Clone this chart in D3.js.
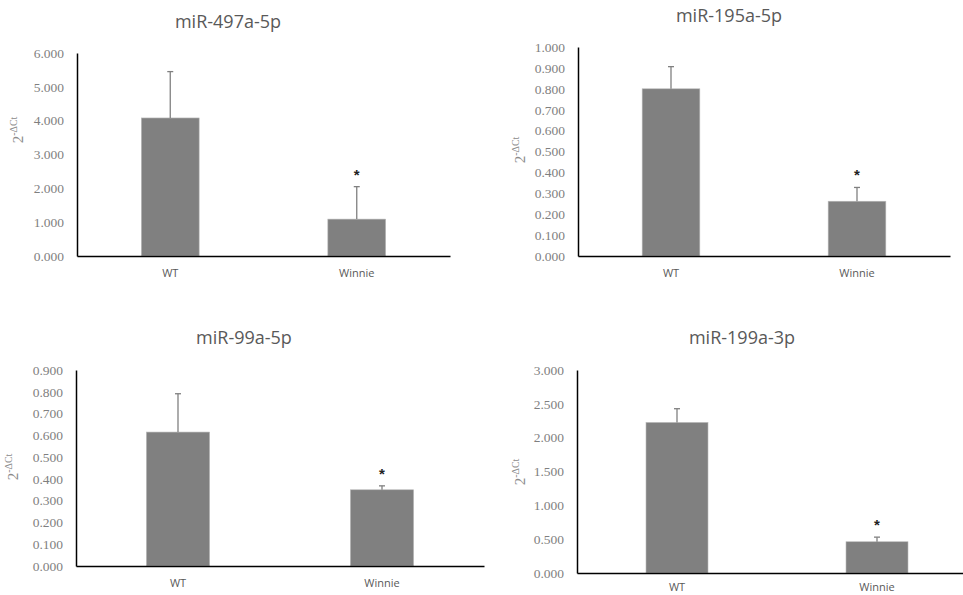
<!DOCTYPE html>
<html>
<meta charset="utf-8">
<title>miRNA expression</title>
<style>
  html, body { margin: 0; padding: 0; background: #fff; }
  .title { font-family: "Open Sans", sans-serif; font-size: 18px; fill: #595959; }
  .tick text { font-family: "Liberation Serif", serif; font-size: 13.5px; fill: #7f7f7f; }
  .xlab { font-family: "Open Sans", sans-serif; font-size: 11px; fill: #595959; }
  .ylab { font-family: "Liberation Serif", serif; font-size: 15px; fill: #8a8a8a; }
  .bar { fill: #808080; stroke: #b8b8b8; stroke-width: 0.6; }
  .err { stroke: #808080; stroke-width: 1.3; fill: none; }
  .star { font-family: "Liberation Sans", sans-serif; font-size: 15px; font-weight: bold; fill: #222; }
</style>
<body>
<div id="chart"></div>
<script src="https://d3js.org/d3.v7.min.js"></script>
<script>
// data
var titles = ["miR-497a-5p", "miR-195a-5p", "miR-99a-5p", "miR-199a-3p"];
var groups = ["WT", "Winnie"];
var means = [[4.08, 1.09], [0.800, 0.262], [0.615, 0.350], [2.225, 0.462]];
var errUp = [[1.37, 0.96], [0.106, 0.066], [0.176, 0.018], [0.203, 0.068]];
var yMax = [6, 1, 0.9, 3];
var yStep = [1, 0.1, 0.1, 0.5];
var signif = [[false, true], [false, true], [false, true], [false, true]];

// panel frames (plot area)
var panels = [
  {left: 77, right: 450, top: 53, bottom: 256, tx: 228, ty: 23, lx: 20, ly: 130, xl: 18},
  {left: 578, right: 950, top: 47, bottom: 256, tx: 729, ty: 17, lx: 522, ly: 150, xl: 18},
  {left: 76, right: 484, top: 370, bottom: 566, tx: 244, ty: 339, lx: 15, ly: 467, xl: 18},
  {left: 577, right: 977, top: 370, bottom: 573, tx: 742, ty: 339, lx: 522, ly: 472, xl: 15}
];

var svg = d3.select("#chart").append("svg")
    .attr("width", 963)
    .attr("height", 595);

panels.forEach(function(p, i) {
    var g = svg.append("g");

    var x = d3.scaleBand()
        .domain(groups)
        .range([p.left, p.right])
        .paddingInner(0.69)
        .paddingOuter(0.345);

    var y = d3.scaleLinear()
        .domain([0, yMax[i]])
        .range([p.bottom, p.top]);

    var ticks = d3.range(0, yMax[i] + yStep[i] / 2, yStep[i]);

    // title
    g.append("text")
        .attr("class", "title")
        .attr("x", p.tx)
        .attr("y", p.ty)
        .attr("dominant-baseline", "middle")
        .attr("text-anchor", "middle")
        .text(titles[i]);

    // bars
    g.selectAll(".bar")
        .data(groups)
        .enter().append("rect")
        .attr("class", "bar")
        .attr("x", function(d) { return x(d); })
        .attr("width", x.bandwidth())
        .attr("y", function(d, j) { return y(means[i][j]); })
        .attr("height", function(d, j) { return y(0) - y(means[i][j]); });

    // error bars (upper only)
    groups.forEach(function(d, j) {
        var cx = x(d) + x.bandwidth() / 2;
        var top = y(means[i][j] + errUp[i][j]);
        g.append("line").attr("class", "err")
            .attr("x1", cx).attr("x2", cx)
            .attr("y1", y(means[i][j])).attr("y2", top);
        g.append("line").attr("class", "err")
            .attr("x1", cx - 3).attr("x2", cx + 3)
            .attr("y1", top).attr("y2", top);
        if (signif[i][j]) {
            g.append("text")
                .attr("class", "star")
                .attr("x", cx)
                .attr("y", top - 7)
                .attr("text-anchor", "middle")
                .text("*");
        }
    });

    // y axis
    var ya = g.append("g")
        .attr("transform", "translate(" + p.left + ",0)")
        .call(d3.axisLeft(y).tickValues(ticks).tickFormat(d3.format(".3f")).tickSize(0).tickPadding(13));
    ya.select(".domain").attr("stroke", "#000").attr("stroke-width", 1.5);

    // x axis
    var xa = g.append("g")
        .attr("transform", "translate(0," + p.bottom + ")")
        .call(d3.axisBottom(x).tickSize(0).tickFormat(""));
    xa.select(".domain").attr("stroke", "#000").attr("stroke-width", 1.5);

    g.selectAll(".xlab")
        .data(groups)
        .enter().append("text")
        .attr("class", "xlab")
        .attr("x", function(d) { return x(d) + x.bandwidth() / 2; })
        .attr("y", p.bottom + p.xl)
        .attr("dominant-baseline", "middle")
        .attr("text-anchor", "middle")
        .text(function(d) { return d; });

    // y label 2^-ΔCt
    var yl = g.append("text")
        .attr("class", "ylab")
        .attr("transform", "translate(" + p.lx + "," + p.ly + ") rotate(-90)")
        .attr("text-anchor", "middle")
        .attr("dominant-baseline", "middle");
    yl.append("tspan").text("2");
    yl.append("tspan").attr("dy", -5).attr("font-size", "10px").text("-ΔCt");
});
</script>
</body>
</html>
